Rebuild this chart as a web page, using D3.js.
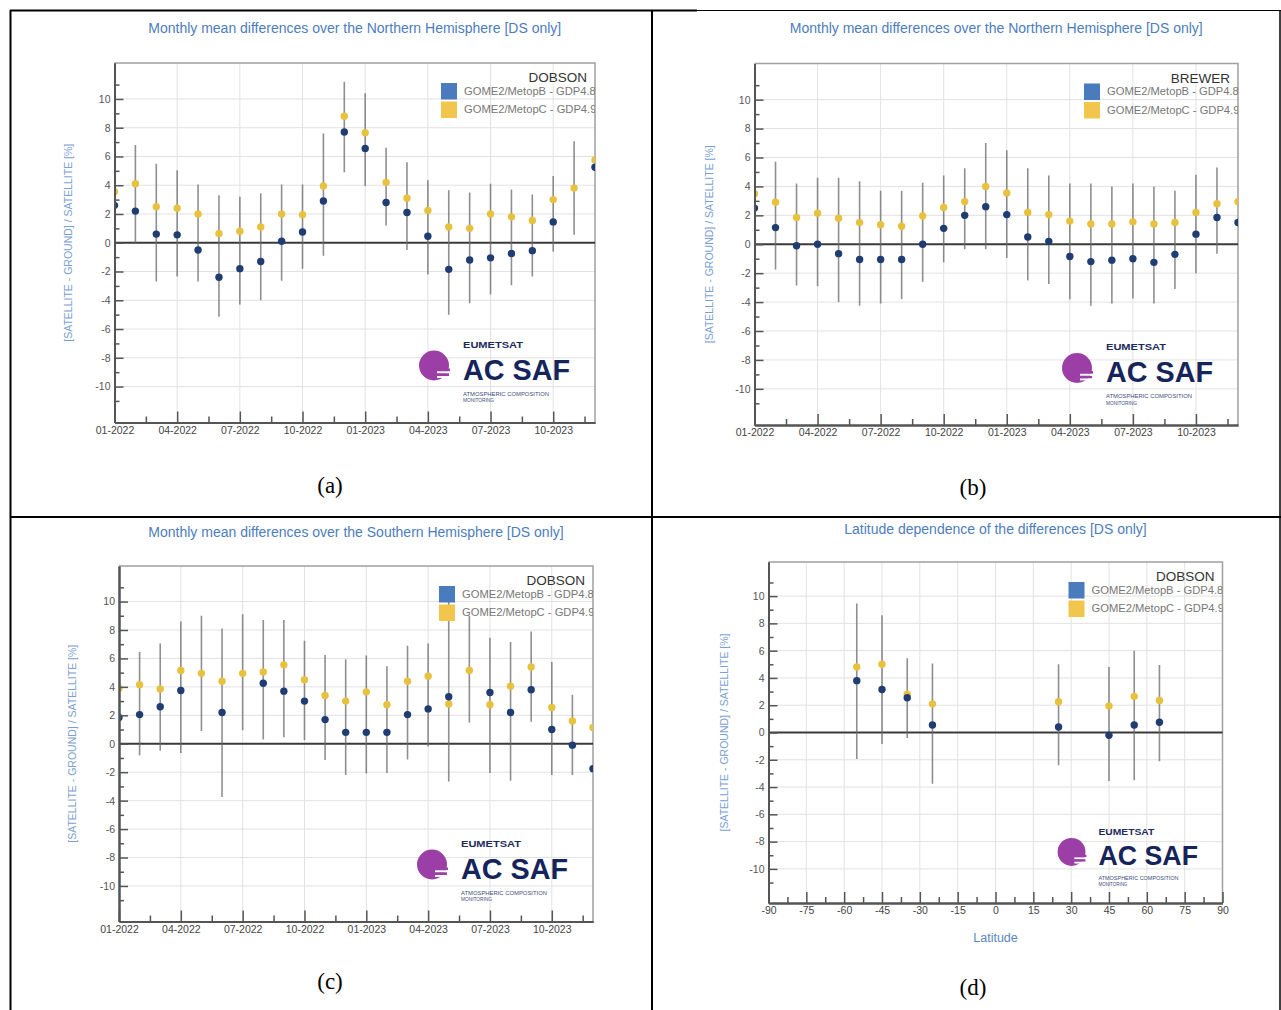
<!DOCTYPE html>
<html><head><meta charset="utf-8">
<script src="https://cdn.jsdelivr.net/npm/d3@7"></script>
<style>body{margin:0;background:#fff} svg{display:block}</style>
</head><body>
<svg id="chart" width="1281" height="1010"></svg>
<script>
// ---------- DATA ----------
const months = ["01-2022","02-2022","03-2022","04-2022","05-2022","06-2022","07-2022","08-2022","09-2022","10-2022","11-2022","12-2022",
                "01-2023","02-2023","03-2023","04-2023","05-2023","06-2023","07-2023","08-2023","09-2023","10-2023","11-2023","12-2023"];
const monthTickLabels = ["01-2022","04-2022","07-2022","10-2022","01-2023","04-2023","07-2023","10-2023"];
const yTickLabels = [-10,-8,-6,-4,-2,0,2,4,6,8,10];
const latTickLabels = [-90,-75,-60,-45,-30,-15,0,15,30,45,60,75,90];
const seriesNames = ["GOME2/MetopB - GDP4.8","GOME2/MetopC - GDP4.9"];

// (a) Northern Hemisphere, Dobson
const nhDobsonB  = [2.6, 2.2, 0.6, 0.55, -0.5, -2.4, -1.8, -1.3, 0.1, 0.75, 2.9, 7.7, 6.55, 2.8, 2.1, 0.45, -1.85, -1.2, -1.05, -0.75, -0.55, 1.45, null, 5.25];
const nhDobsonC  = [3.55, 4.1, 2.5, 2.4, 2.0, 0.65, 0.8, 1.1, 2.0, 1.95, 3.95, 8.8, 7.65, 4.2, 3.1, 2.25, 1.1, 1.0, 2.0, 1.8, 1.55, 3.0, 3.8, 5.75];
const nhDobsonHi = [null, 6.8, 5.5, 5.05, 4.05, 3.3, 3.2, 3.45, 4.05, 4.05, 7.6, 11.2, 10.4, 6.6, 5.6, 4.35, 3.65, 3.5, 4.1, 3.7, 3.35, 4.65, 7.05, null];
const nhDobsonLo = [null, 0.0, -2.7, -2.35, -2.7, -5.15, -4.3, -4.0, -2.65, -1.8, -0.9, 4.9, 3.95, 1.2, -0.5, -2.2, -5.0, -4.2, -3.6, -2.95, -2.35, -0.6, 0.55, null];

// (b) Northern Hemisphere, Brewer
const nhBrewerB  = [2.5, 1.15, -0.1, 0.0, -0.65, -1.05, -1.05, -1.05, 0.0, 1.1, 2.0, 2.6, 2.05, 0.5, 0.2, -0.85, -1.2, -1.1, -1.0, -1.25, -0.7, 0.7, 1.85, 1.5];
const nhBrewerC  = [3.5, 2.9, 1.85, 2.15, 1.8, 1.5, 1.35, 1.25, 1.95, 2.55, 2.95, 4.0, 3.55, 2.2, 2.05, 1.6, 1.4, 1.4, 1.55, 1.4, 1.5, 2.2, 2.8, 2.95];
const nhBrewerHi = [null, 5.7, 4.2, 4.6, 4.6, 4.35, 3.7, 3.7, 4.25, 4.75, 5.25, 7.0, 6.5, 5.25, 4.75, 4.2, 4.2, 4.0, 4.2, 4.0, 3.7, 4.8, 5.3, null];
const nhBrewerLo = [null, -1.75, -2.85, -2.9, -4.0, -4.25, -4.1, -3.8, -2.6, -1.25, -0.35, -0.35, -0.95, -2.5, -2.75, -3.8, -4.25, -4.1, -3.75, -4.1, -3.1, -2.0, -0.65, null];

// (c) Southern Hemisphere, Dobson
const shDobsonB  = [1.85, 2.05, 2.6, 3.75, null, 2.2, null, 4.25, 3.7, 3.0, 1.7, 0.8, 0.8, 0.8, 2.05, 2.45, 3.3, null, 3.6, 2.2, 3.8, 1.0, -0.1, -1.75];
const shDobsonC  = [3.9, 4.15, 3.85, 5.15, 4.95, 4.4, 4.95, 5.05, 5.55, 4.5, 3.4, 3.0, 3.65, 2.75, 4.4, 4.75, 2.8, 5.15, 2.75, 4.05, 5.4, 2.55, 1.6, 1.15];
const shDobsonHi = [null, 6.45, 7.05, 8.6, 9.0, 8.1, 9.1, 8.7, 8.7, 7.25, 6.25, 5.95, 6.2, 5.45, 6.9, 7.05, 10.0, 9.0, 7.45, 7.15, 7.9, 5.75, 3.45, null];
const shDobsonLo = [null, -0.8, -0.5, -0.65, 0.9, -3.75, 0.95, 0.3, 0.45, 0.25, -1.15, -2.2, -2.1, -2.05, -1.1, -0.2, -2.65, 1.5, -2.05, -2.6, 1.55, -2.2, -2.2, null];

// (d) Latitude dependence, Dobson
const latitudes  = [-55, -45, -35, -25, 25, 45, 55, 65];
const latDobsonB = [3.8, 3.15, 2.55, 0.55, 0.4, -0.2, 0.55, 0.75];
const latDobsonC = [4.8, 5.0, 2.8, 2.1, 2.25, 1.95, 2.65, 2.35];
const latDobsonHi= [9.45, 8.6, 5.45, 5.05, 5.0, 4.8, 6.0, 4.95];
const latDobsonLo= [-1.95, -0.85, -0.4, -3.75, -2.4, -3.55, -3.5, -2.1];

// ---------- STYLE ----------
const C_BLUE_DOT = "#1f3c73", C_YEL_DOT = "#e8c23e";
const C_BLUE_SQ = "#4a7bbd", C_YEL_SQ = "#f2c64c";
const C_TITLE = "#4d7dbd", C_YLAB = "#7ba0d2";
const FONT = "'Liberation Sans', Arial, sans-serif";

const svg = d3.select("#chart");

// table borders
const border = svg.append("g").attr("stroke", "#000");
border.append("line").attr("x1", 10).attr("x2", 697).attr("y1", 10.5).attr("y2", 10.5).attr("stroke-width", 2);
border.append("line").attr("x1", 697).attr("x2", 1281).attr("y1", 10.5).attr("y2", 10.5).attr("stroke-width", 1);
border.append("line").attr("x1", 10.5).attr("x2", 10.5).attr("y1", 10).attr("y2", 1010).attr("stroke-width", 2);
border.append("line").attr("x1", 652).attr("x2", 652).attr("y1", 10).attr("y2", 1010).attr("stroke-width", 2);
border.append("line").attr("x1", 1280).attr("x2", 1280).attr("y1", 10).attr("y2", 1010).attr("stroke-width", 1.5);
border.append("line").attr("x1", 10).attr("x2", 1281).attr("y1", 517).attr("y2", 517).attr("stroke-width", 2);

function drawLogo(g, x0, by, s) {
  const L = g.append("g").attr("transform", `translate(${x0},${by}) scale(${s})`);
  // purple emblem: disc with white wind-lines on its lower right
  L.append("circle").attr("cx", -29).attr("cy", -14).attr("r", 15).attr("fill", "#9b3fa6");
  L.append("rect").attr("x", -25).attr("y", -11).attr("width", 12).attr("height", 2.8).attr("fill", "#9b3fa6");
  L.append("rect").attr("x", -25).attr("y", -6.3).attr("width", 11).attr("height", 2.8).attr("fill", "#9b3fa6");
  L.append("rect").attr("x", -26).attr("y", -8.2).attr("width", 20).attr("height", 1.9).attr("fill", "#fff");
  L.append("rect").attr("x", -26).attr("y", -3.5).attr("width", 20).attr("height", 1.9).attr("fill", "#fff");
  L.append("text").attr("x", 0).attr("y", -32).attr("font-family", FONT).attr("font-weight", "bold")
    .attr("font-size", 9.5).attr("fill", "#1d2b5c").attr("textLength", 60).attr("lengthAdjust", "spacingAndGlyphs").text("EUMETSAT");
  L.append("text").attr("x", 0).attr("y", 0).attr("font-family", FONT).attr("font-weight", "bold")
    .attr("font-size", 30).attr("fill", "#15245a").attr("textLength", 107).attr("lengthAdjust", "spacingAndGlyphs").text("AC SAF");
  L.append("text").attr("x", 0).attr("y", 16).attr("font-family", FONT)
    .attr("font-size", 6).attr("fill", "#3d4c7c").attr("textLength", 86).attr("lengthAdjust", "spacingAndGlyphs").text("ATMOSPHERIC COMPOSITION");
  L.append("text").attr("x", 0).attr("y", 22.5).attr("font-family", FONT)
    .attr("font-size", 6).attr("fill", "#3d4c7c").attr("textLength", 31).attr("lengthAdjust", "spacingAndGlyphs").text("MONITORING");
}

function drawPanel(p) {
  const g = svg.append("g");
  const y = d3.scaleLinear().domain([-12.5, 12.5]).range([p.bottom, p.top]);
  const x = p.x;
  const clipId = "clip-" + p.id;
  svg.append("clipPath").attr("id", clipId).append("rect")
    .attr("x", p.left).attr("y", p.top).attr("width", p.right - p.left).attr("height", p.bottom - p.top);

  // grid
  g.append("g").selectAll("line").data(yTickLabels.filter(v => v !== 0)).join("line")
    .attr("x1", p.left).attr("x2", p.right).attr("y1", d => y(d)).attr("y2", d => y(d))
    .attr("stroke", "#e2e2e2").attr("stroke-width", 1);
  g.append("g").selectAll("line").data(p.xMajor).join("line")
    .attr("x1", d => x(d)).attr("x2", d => x(d)).attr("y1", p.top).attr("y2", p.bottom)
    .attr("stroke", "#e2e2e2").attr("stroke-width", 1);

  // frame top & right
  g.append("path").attr("d", `M${p.left},${p.top}H${p.right}V${p.bottom}`)
    .attr("fill", "none").attr("stroke", "#a0a0a0").attr("stroke-width", 1.5);

  // logo
  drawLogo(g, p.right - p.logoDx, p.bottom - p.logoDy, p.logoS);

  // zero line
  g.append("line").attr("x1", p.left).attr("x2", p.right).attr("y1", y(0)).attr("y2", y(0))
    .attr("stroke", "#3a3a3a").attr("stroke-width", 2);

  const plot = g.append("g").attr("clip-path", `url(#${clipId})`);
  const idx = d3.range(p.xs.length);
  // error bars
  plot.append("g").selectAll("line").data(idx.filter(i => p.lo[i] != null)).join("line")
    .attr("x1", i => x(p.xs[i])).attr("x2", i => x(p.xs[i]))
    .attr("y1", i => y(p.lo[i])).attr("y2", i => y(p.hi[i]))
    .attr("stroke", "#6a6a6a").attr("stroke-width", 1.6).attr("stroke-opacity", 0.75);
  // points: MetopC (yellow) then MetopB (blue) on top
  plot.append("g").selectAll("circle").data(idx.filter(i => p.c[i] != null)).join("circle")
    .attr("cx", i => x(p.xs[i])).attr("cy", i => y(p.c[i])).attr("r", 3.7).attr("fill", C_YEL_DOT);
  plot.append("g").selectAll("circle").data(idx.filter(i => p.b[i] != null)).join("circle")
    .attr("cx", i => x(p.xs[i])).attr("cy", i => y(p.b[i])).attr("r", 3.7).attr("fill", C_BLUE_DOT);

  // y axis (ticks inward)
  const yAxMajor = d3.axisLeft(y).tickValues(yTickLabels).tickSizeInner(-9).tickSizeOuter(0).tickPadding(4).tickFormat(d => String(d));
  const yAxMinor = d3.axisLeft(y).tickValues(d3.range(-11, 12, 2)).tickSizeInner(-5).tickSizeOuter(0).tickFormat("");
  [yAxMinor, yAxMajor].forEach(ax => {
    const a = g.append("g").attr("transform", `translate(${p.left},0)`).call(ax);
    a.select(".domain").attr("stroke", "#555").attr("stroke-width", 2);
    a.selectAll(".tick line").attr("stroke", "#555").attr("stroke-width", 1.5);
    a.selectAll(".tick text").attr("font-family", FONT).attr("font-size", 10.5).attr("fill", "#555");
  });
  // x axis
  const xAxMajor = d3.axisBottom(x).tickValues(p.xMajor).tickSizeInner(-11).tickSizeOuter(0).tickPadding(4).tickFormat(p.xFormat);
  const xAxMinor = d3.axisBottom(x).tickValues(p.xMinor).tickSizeInner(-6).tickSizeOuter(0).tickFormat("");
  [xAxMinor, xAxMajor].forEach(ax => {
    const a = g.append("g").attr("transform", `translate(0,${p.bottom})`).call(ax);
    a.select(".domain").attr("stroke", "#555").attr("stroke-width", 2);
    a.selectAll(".tick line").attr("stroke", "#555").attr("stroke-width", 1.5);
    a.selectAll(".tick text").attr("font-family", FONT).attr("font-size", 10.5).attr("fill", "#444");
  });

  // legend
  const lg = g.append("g").attr("clip-path", `url(#${clipId})`);
  lg.append("text").attr("x", p.right - 8).attr("y", p.top + 19).attr("text-anchor", "end")
    .attr("font-family", FONT).attr("font-size", 13.5).attr("fill", "#333").text(p.source);
  const sqX = p.right - 154;
  [[C_BLUE_SQ, seriesNames[0]], [C_YEL_SQ, seriesNames[1]]].forEach((d, k) => {
    const yy = p.top + 20 + k * 18.5;
    lg.append("rect").attr("x", sqX).attr("y", yy).attr("width", 16).attr("height", 16.5).attr("fill", d[0]);
    lg.append("text").attr("x", sqX + 23).attr("y", yy + 8).attr("dy", "0.35em")
      .attr("font-family", FONT).attr("font-size", 11.2).attr("fill", "#777").text(d[1]);
  });

  // title
  g.append("text").attr("x", (p.left + p.right) / 2).attr("y", p.titleY).attr("dy", "0.35em")
    .attr("text-anchor", "middle").attr("font-family", FONT).attr("font-size", 14).attr("fill", C_TITLE).text(p.title);
  // y label
  g.append("text").attr("transform", `translate(${p.ylabX},${(p.top + p.bottom) / 2}) rotate(-90)`)
    .attr("dy", "0.35em").attr("text-anchor", "middle").attr("font-family", FONT).attr("font-size", 10.5)
    .attr("fill", C_YLAB).text("[SATELLITE - GROUND] / SATELLITE [%]");
  if (p.xlabel) {
    g.append("text").attr("x", (p.left + p.right) / 2).attr("y", p.bottom + 35).attr("dy", "0.35em")
      .attr("text-anchor", "middle").attr("font-family", FONT).attr("font-size", 12.5).attr("fill", "#5b86c0").text(p.xlabel);
  }
  // caption
  svg.append("text").attr("x", p.capX).attr("y", p.capY).attr("dy", "0.35em").attr("text-anchor", "middle")
    .attr("font-family", "'Liberation Serif', 'Times New Roman', serif").attr("font-size", 23).attr("fill", "#000").text(p.caption);
}

const mIdx = d3.range(months.length);
const mMajor = monthTickLabels.map(l => months.indexOf(l));
const mMinor = mMajor.map(i => i + 1.5).filter(v => v <= 23);
const mFormat = i => months[i];

function monthPanel(id, left, right, top, bottom, title, titleY, source, b, c, lo, hi, ylabX, caption, capX, capY) {
  return {
    id, left, right, top, bottom, title, titleY, source, b, c, lo, hi, ylabX, caption, capX, capY,
    xs: mIdx, x: d3.scaleLinear().domain([0, 23]).range([left, right]),
    xMajor: mMajor, xMinor: mMinor, xFormat: mFormat, logoDx: 132, logoDy: 43, logoS: 1
  };
}

const NH = "Monthly mean differences over the Northern Hemisphere [DS only]";
const SH = "Monthly mean differences over the Southern Hemisphere [DS only]";
drawPanel(monthPanel("a", 114.5, 595, 63, 422.5, NH, 28, "DOBSON", nhDobsonB, nhDobsonC, nhDobsonLo, nhDobsonHi, 68, "(a)", 330, 485));
drawPanel(monthPanel("b", 754.5, 1238, 63.5, 425, NH, 28, "BREWER", nhBrewerB, nhBrewerC, nhBrewerLo, nhBrewerHi, 709, "(b)", 973, 487));
drawPanel(monthPanel("c", 119, 593, 566, 921.5, SH, 532, "DOBSON", shDobsonB, shDobsonC, shDobsonLo, shDobsonHi, 72, "(c)", 330, 981));
drawPanel({
  id: "d", left: 768.5, right: 1222.5, top: 562, bottom: 903,
  title: "Latitude dependence of the differences [DS only]", titleY: 529, source: "DOBSON",
  b: latDobsonB, c: latDobsonC, lo: latDobsonLo, hi: latDobsonHi, xs: latitudes,
  x: d3.scaleLinear().domain([-90, 90]).range([768.5, 1222.5]),
  xMajor: latTickLabels, xMinor: latTickLabels.slice(0, -1).map(v => v + 7.5), xFormat: d => String(d),
  ylabX: 724, xlabel: "Latitude", caption: "(d)", capX: 973, capY: 987,
  logoDx: 124, logoDy: 38, logoS: 0.93
});
</script>
</body></html>
